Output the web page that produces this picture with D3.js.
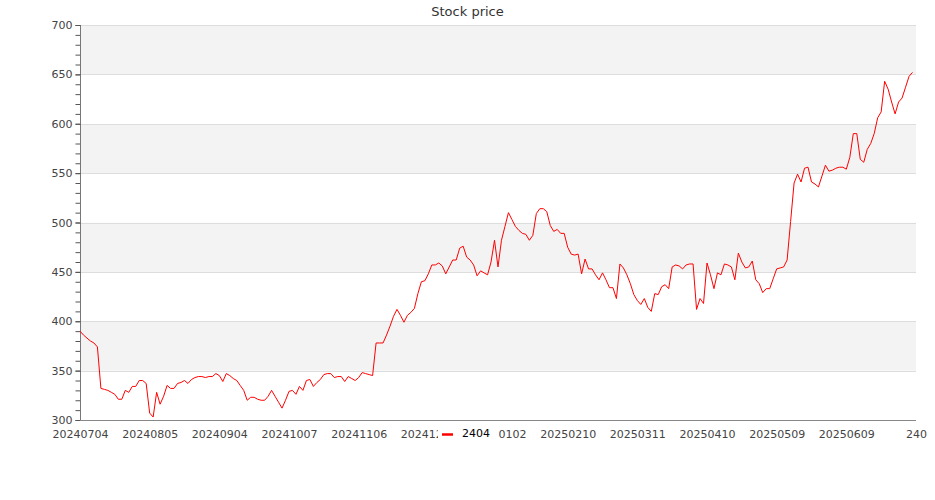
<!DOCTYPE html>
<html>
<head>
<meta charset="utf-8">
<script src="https://cdn.jsdelivr.net/npm/d3@7"></script>
<style>
  html, body { margin: 0; padding: 0; background: #fff; }
  svg { display: block; font-family: "DejaVu Sans", sans-serif; }
</style>
</head>
<body>
<div id="chart"></div>
<script>
const seriesName = "2404";
const chartTitle = "Stock price";

const dates = [
  "20240704","20240705","20240708","20240709","20240710","20240711","20240712","20240715","20240716","20240717",
  "20240718","20240719","20240722","20240723","20240726","20240729","20240730","20240731","20240801","20240802",
  "20240805","20240806","20240807","20240808","20240809","20240812","20240813","20240814","20240815","20240816",
  "20240819","20240820","20240821","20240822","20240823","20240826","20240827","20240828","20240829","20240830",
  "20240904","20240905","20240906","20240909","20240910","20240911","20240912","20240913","20240916","20240918",
  "20240919","20240920","20240923","20240924","20240925","20240926","20240927","20240930","20241001","20241004",
  "20241007","20241008","20241009","20241011","20241014","20241015","20241016","20241017","20241018","20241021",
  "20241022","20241023","20241024","20241025","20241028","20241029","20241030","20241101","20241104","20241105",
  "20241106","20241107","20241108","20241111","20241112","20241113","20241114","20241115","20241118","20241119",
  "20241120","20241121","20241122","20241125","20241126","20241127","20241128","20241129","20241202","20241203",
  "20241204","20241205","20241206","20241209","20241210","20241211","20241212","20241213","20241216","20241217",
  "20241218","20241219","20241220","20241223","20241224","20241225","20241226","20241227","20241230","20241231",
  "20250102","20250103","20250106","20250107","20250108","20250109","20250110","20250113","20250114","20250115",
  "20250116","20250117","20250120","20250121","20250122","20250203","20250204","20250205","20250206","20250207",
  "20250210","20250211","20250212","20250213","20250214","20250217","20250218","20250219","20250220","20250221",
  "20250224","20250225","20250226","20250227","20250303","20250304","20250305","20250306","20250307","20250310",
  "20250311","20250312","20250313","20250314","20250317","20250318","20250319","20250320","20250321","20250324",
  "20250325","20250326","20250327","20250328","20250331","20250401","20250402","20250407","20250408","20250409",
  "20250410","20250411","20250414","20250415","20250416","20250417","20250418","20250421","20250422","20250423",
  "20250424","20250425","20250428","20250429","20250430","20250502","20250505","20250506","20250507","20250508",
  "20250509","20250512","20250513","20250514","20250515","20250516","20250519","20250520","20250521","20250522",
  "20250523","20250526","20250527","20250528","20250529","20250602","20250603","20250604","20250605","20250606",
  "20250609","20250610","20250611","20250612","20250613","20250616","20250617","20250618","20250619","20250620",
  "20250623","20250624","20250625","20250626","20250627","20250630","20250701","20250702","20250703","20250704"
];

const prices = [
  390,386,383,380,378,374,332,331,330,328,
  326,321,321,330,328,334,334,340,340,337,
  307,303,328,316,324,335,332,332,337,338,
  340,337,341,343,344,344,343,344,344,347,
  345,339,347,345,342,340,335,330,320,323,
  323,321,320,320,324,330,324,318,312,320,
  329,330,326,334,330,340,341,334,338,341,
  346,347,347,343,344,344,339,344,342,340,
  343,348,347,346,345,378,378,378,386,395,
  405,412,406,399,406,409,413,428,440,441,
  448,457,457,459,456,448,455,462,462,474,
  476,465,462,457,446,451,449,447,460,482,
  455,482,496,510,503,496,492,489,488,482,
  487,509,514,514,511,497,491,493,489,489,
  475,468,467,468,448,463,453,453,447,442,
  449,442,434,434,423,458,454,447,438,427,
  421,417,423,414,410,428,427,435,437,433,
  455,457,456,453,457,458,458,412,423,418,
  459,447,433,449,447,458,457,455,442,469,
  460,454,455,461,442,438,429,433,433,443,
  453,454,455,462,501,540,549,541,555,556,
  541,539,536,547,558,552,553,555,556,556,
  554,566,590,590,564,561,574,580,590,606,
  612,643,635,622,610,622,626,637,648,652
];

const yMajorTicks = [300, 350, 400, 450, 500, 550, 600, 650, 700];
const yMinorTicks = [300,310,320,330,340,350,360,370,380,390,400,410,420,430,440,450,460,470,480,490,500,
                     510,520,530,540,550,560,570,580,590,600,610,620,630,640,650,660,670,680,690,700];
const xTickIndex = [0, 20, 40, 60, 80, 100, 120, 140, 160, 180, 200, 220, 240];

const W = 935, H = 500;
const plotLeft = 80, plotRight = 916, plotTop = 25, plotBottom = 420;

const svg = d3.select("#chart").append("svg").attr("width", W).attr("height", H);

const x = d3.scaleLinear().domain([0, 240]).range([plotLeft, plotRight]);
const y = d3.scaleLinear().domain([300, 700]).range([plotBottom, plotTop]);

// alternating bands
const bands = d3.pairs(yMajorTicks);
svg.append("g").selectAll("rect").data(bands).join("rect")
  .attr("x", plotLeft).attr("width", plotRight - plotLeft)
  .attr("y", d => y(d[1])).attr("height", d => y(d[0]) - y(d[1]))
  .attr("fill", (d, i) => i % 2 === 1 ? "#f3f3f3" : "#ffffff");

// gridlines
svg.append("g").selectAll("line").data(yMajorTicks.slice(1)).join("line")
  .attr("x1", plotLeft).attr("x2", plotRight)
  .attr("y1", d => Math.round(y(d)) + 0.5).attr("y2", d => Math.round(y(d)) + 0.5)
  .attr("stroke", "#dddddd").attr("stroke-width", 1);

// y axis
const yAxisMinor = d3.axisLeft(y).tickValues(yMinorTicks).tickSize(5).tickFormat("");
const gyMinor = svg.append("g").attr("transform", `translate(${plotLeft + 0.5},0)`).call(yAxisMinor);
gyMinor.select(".domain").remove();
gyMinor.selectAll("line").attr("stroke", "#555");

const yAxis = d3.axisLeft(y).tickValues(yMajorTicks).tickSize(5).tickPadding(3);
const gy = svg.append("g").attr("transform", `translate(${plotLeft + 0.5},0)`).call(yAxis);
gy.select(".domain").attr("stroke", "#777").attr("d", `M0,${plotTop}V${plotBottom}`);
gy.selectAll("line").attr("stroke", "#555");
gy.selectAll("text").attr("font-size", 11).attr("fill", "#444")
  .attr("font-family", "DejaVu Sans, sans-serif");

// x axis
const xAxis = d3.axisBottom(x).tickValues(xTickIndex).tickSize(0).tickPadding(10)
  .tickFormat(i => i < dates.length ? dates[i] : String(i));
const gx = svg.append("g").attr("transform", `translate(0,${plotBottom + 0.5})`).call(xAxis);
gx.select(".domain").attr("stroke", "#888").attr("d", `M${plotLeft},0H${plotRight}`);
gx.selectAll("text").attr("font-size", 11).attr("fill", "#444")
  .attr("font-family", "DejaVu Sans, sans-serif");

// line
const line = d3.line().x((d, i) => x(i)).y(d => y(d));
svg.append("path").datum(prices)
  .attr("fill", "none").attr("stroke", "#ff0000").attr("stroke-width", 1)
  .attr("stroke-linejoin", "round")
  .attr("d", line);

// title
svg.append("text").attr("x", W / 2).attr("y", 16).attr("text-anchor", "middle")
  .attr("font-size", 13).attr("fill", "#333").text(chartTitle);

// legend
const lg = svg.append("g").attr("transform", "translate(438,426)");
lg.append("rect").attr("x", 0).attr("y", 0).attr("width", 61).attr("height", 17).attr("fill", "#fff");
lg.append("line").attr("x1", 4).attr("x2", 15).attr("y1", 8.5).attr("y2", 8.5)
  .attr("stroke", "#ff0000").attr("stroke-width", 2.5);
lg.append("text").attr("x", 24).attr("y", 11).attr("font-size", 11).attr("fill", "#000")
  .text(seriesName);
</script>
</body>
</html>
